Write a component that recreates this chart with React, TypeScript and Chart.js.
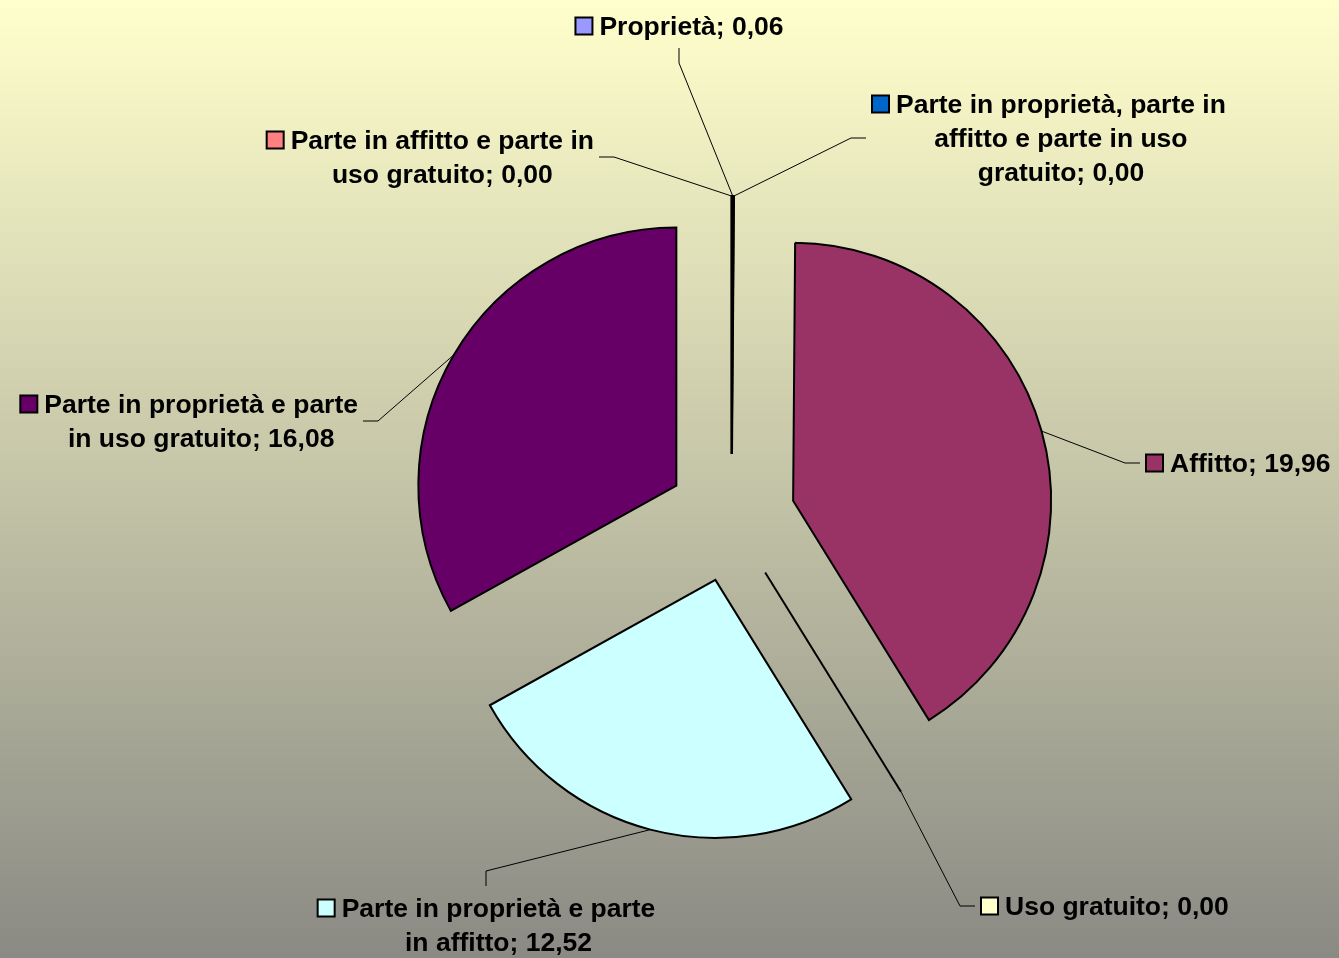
import React, { useEffect, useRef } from 'react';
import { Chart, registerables } from 'chart.js';

Chart.register(...registerables);

// ---- data ----
const CATEGORIES = [
  'Proprietà',
  'Parte in proprietà, parte in affitto e parte in uso gratuito',
  'Affitto',
  'Uso gratuito',
  'Parte in proprietà e parte in affitto',
  'Parte in proprietà e parte in uso gratuito',
  'Parte in affitto e parte in uso gratuito',
];
const VALUES = [0.06, 0.0, 19.96, 0.0, 12.52, 16.08, 0.0];
const COLORS = ['#9999FF', '#0066CC', '#993366', '#FFFFCC', '#CCFFFF', '#660066', '#FF8080'];

// ---- label layout (leader end point relative to pie centre, and side of label) ----
const LABEL_ANCHORS: [number, number, string][] = [
  [-52.5, -470, 'above'],
  [134.5, -380, 'right'],
  [408.5, -55, 'right'],
  [243.5, 388, 'right'],
  [-245.5, 368, 'below'],
  [-368.5, -97, 'left'],
  [-132.5, -361, 'left'],
];

const W = 1339;
const H = 958;
const RADIUS = 258;
const EXPLODE = 64;
const FONT_SIZE = 26.5;
const LINE_H = 34;
const KEY = 19;
const KEY_GAP = 6;
const GAP = 5;
const ELBOW = 15;
const WRAP = 336;
const FONT = `bold ${FONT_SIZE}px "Liberation Sans", Arial, sans-serif`;

function fmt(v: number) {
  return v.toFixed(2).replace('.', ',');
}

function wrap(ctx: CanvasRenderingContext2D, text: string, maxW: number) {
  const words = text.split(' ');
  const lines: string[] = [];
  let cur = '';
  for (const w of words) {
    const t = cur ? cur + ' ' + w : w;
    if (ctx.measureText(t).width > maxW && cur) {
      lines.push(cur);
      cur = w;
    } else cur = t;
  }
  if (cur) lines.push(cur);
  return lines;
}

const bgPlugin = {
  id: 'bg',
  beforeDraw(chart: any) {
    const ctx = chart.ctx;
    const g = ctx.createLinearGradient(0, 0, 0, chart.height);
    g.addColorStop(0, '#FFFFCC');
    g.addColorStop(1, '#8A8A84');
    ctx.save();
    ctx.fillStyle = g;
    ctx.fillRect(0, 0, chart.width, chart.height);
    ctx.restore();
  },
};

// draws each slice pushed out along its bisector (pure translation, no radius growth)
const explodePlugin = {
  id: 'explode',
  beforeDatasetDraw(chart: any, args: any) {
    const ctx: CanvasRenderingContext2D = chart.ctx;
    args.meta.data.forEach((arc: any) => {
      const p = arc.getProps(['startAngle', 'endAngle'], true);
      const mid = (p.startAngle + p.endAngle) / 2;
      ctx.save();
      ctx.translate(Math.cos(mid) * EXPLODE, Math.sin(mid) * EXPLODE);
      arc.draw(ctx, chart.chartArea);
      ctx.restore();
    });
    return false;
  },
};

const labelPlugin = {
  id: 'pieLabels',
  afterDatasetsDraw(chart: any) {
    const ctx: CanvasRenderingContext2D = chart.ctx;
    const meta = chart.getDatasetMeta(0);
    const data = chart.data.datasets[0].data as number[];
    const labels = chart.data.labels as string[];
    const colors = chart.data.datasets[0].backgroundColor as string[];
    ctx.save();
    meta.data.forEach((arc: any, i: number) => {
      const p = arc.getProps(['x', 'y', 'startAngle', 'endAngle', 'outerRadius', 'circumference'], true);
      const mid = (p.startAngle + p.endAngle) / 2;
      const ax = p.x + Math.cos(mid) * EXPLODE;
      const ay = p.y + Math.sin(mid) * EXPLODE;
      const ox = ax + Math.cos(mid) * p.outerRadius;
      const oy = ay + Math.sin(mid) * p.outerRadius;

      if (!p.circumference) {
        ctx.strokeStyle = '#000';
        ctx.lineWidth = 2;
        ctx.beginPath();
        ctx.moveTo(ax, ay);
        ctx.lineTo(ox, oy);
        ctx.stroke();
      }

      const [dx, dy, side] = LABEL_ANCHORS[i];
      const tx = p.x + dx;
      const ty = p.y + dy;
      let ex = tx, ey = ty;
      if (side === 'right') ex = tx - ELBOW;
      else if (side === 'left') ex = tx + ELBOW;
      else if (side === 'above') ey = ty + ELBOW;
      else ey = ty - ELBOW;

      ctx.strokeStyle = '#000';
      ctx.lineWidth = 1;
      ctx.beginPath();
      ctx.moveTo(ox, oy);
      ctx.lineTo(ex, ey);
      ctx.lineTo(tx, ty);
      ctx.stroke();

      ctx.font = FONT;
      const lines = wrap(ctx, `${labels[i]}; ${fmt(data[i])}`, WRAP);
      const textW = Math.max(...lines.map((l) => ctx.measureText(l).width));
      const boxW = KEY + KEY_GAP + textW;
      const boxH = lines.length * LINE_H;
      let left = 0, top = 0;
      if (side === 'right') { left = tx + GAP; top = ty - boxH / 2; }
      else if (side === 'left') { left = tx - GAP - boxW; top = ty - boxH / 2; }
      else if (side === 'above') { left = tx - boxW / 2; top = ty - GAP - boxH; }
      else { left = tx - boxW / 2; top = ty + GAP; }

      const textLeft = left + KEY + KEY_GAP;
      const cx = textLeft + textW / 2;
      ctx.fillStyle = '#000';
      ctx.textAlign = 'center';
      ctx.textBaseline = 'alphabetic';
      lines.forEach((l, k) => {
        const lc = top + LINE_H / 2 + k * LINE_H;
        ctx.fillText(l, cx, lc + (FONT_SIZE * 0.716) / 2);
      });
      const kc = top + LINE_H / 2;
      ctx.fillStyle = colors[i];
      ctx.fillRect(left + 1, kc - KEY / 2 + 1, KEY - 2, KEY - 2);
      ctx.strokeStyle = '#000';
      ctx.lineWidth = 2;
      ctx.strokeRect(left + 1, kc - KEY / 2 + 1, KEY - 2, KEY - 2);
    });
    ctx.restore();
  },
};

export default function App() {
  const ref = useRef<HTMLCanvasElement>(null);
  useEffect(() => {
    if (!ref.current) return;
    const chart = new Chart(ref.current, {
      type: 'pie',
      data: {
        labels: CATEGORIES,
        datasets: [
          {
            data: VALUES,
            backgroundColor: COLORS,
            borderColor: '#000',
            borderWidth: 2,
            borderJoinStyle: 'miter',
            offset: 0,
          } as any,
        ],
      },
      options: {
        responsive: false,
        animation: false,
        radius: RADIUS,
        layout: { padding: { left: 124, top: 78, right: 0, bottom: 0 } },
        plugins: {
          legend: { display: false },
          tooltip: { enabled: false },
        },
      } as any,
      plugins: [bgPlugin, explodePlugin, labelPlugin],
    });
    return () => chart.destroy();
  }, []);
  return (
    <div style={{ position: 'fixed', left: 0, top: 0, width: W, height: H }}>
      <canvas ref={ref} width={W} height={H} style={{ display: 'block' }} />
    </div>
  );
}
